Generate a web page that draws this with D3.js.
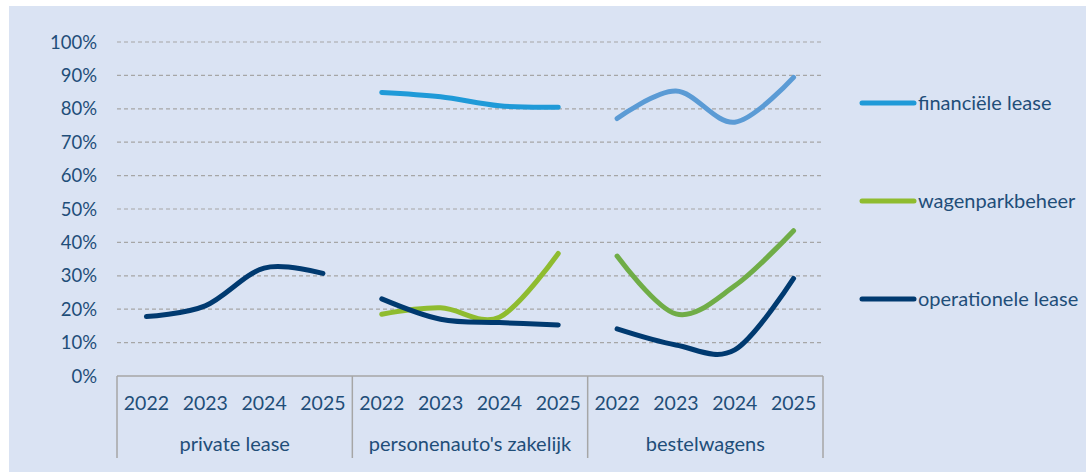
<!DOCTYPE html>
<html>
<head>
<meta charset="utf-8">
<script src="https://cdn.jsdelivr.net/npm/d3@7"></script>
<style>
  html, body { margin: 0; padding: 0; background: #ffffff; }
  svg { display: block; }
  text { font-family: Lato, "Open Sans", sans-serif; }
</style>
</head>
<body>
<svg id="chart" width="1086" height="472"></svg>
<script>
// ---- data ----
const groups = ["private lease", "personenauto's zakelijk", "bestelwagens"];
const years = ["2022", "2023", "2024", "2025"];
const yTicks = [0, 0.1, 0.2, 0.3, 0.4, 0.5, 0.6, 0.7, 0.8, 0.9, 1.0];

const seriesNames = ["financiële lease", "wagenparkbeheer", "operationele lease"];

// values per group (null = no data)
const financieleLease = [
  null,
  [0.849, 0.836, 0.809, 0.805],
  [0.771, 0.853, 0.760, 0.894]
];
const wagenparkbeheer = [
  null,
  [0.185, 0.204, 0.176, 0.367],
  [0.359, 0.186, 0.270, 0.435]
];
const operationeleLease = [
  [0.178, 0.210, 0.323, 0.307],
  [0.231, 0.170, 0.160, 0.153],
  [0.141, 0.093, 0.078, 0.292]
];

// colours per group (the source varies shade per panel)
const financieleColors = ["#1f9ad8", "#1f9ad8", "#5b9bd5"];
const wagenparkColors = ["#8fbc2f", "#8fbc2f", "#70ad47"];
const operationeleColors = ["#003a70", "#003a70", "#003a70"];
const legendColors = ["#1f9ad8", "#8fbc2f", "#003a70"];

// ---- layout ----
const svg = d3.select("#chart");
const W = 1086, H = 472;
const plot = { left: 117, right: 823, top: 42, bottom: 376 };
const textColor = "#1f4e79";
const gridColor = "#a6a6a6";

svg.append("rect").attr("x", 9).attr("y", 6).attr("width", W - 9).attr("height", H - 6)
  .attr("fill", "#dae3f3");

const cats = [];
groups.forEach((g, gi) => years.forEach((y, yi) => cats.push(gi + "|" + yi)));

const x = d3.scaleBand().domain(cats).range([plot.left, plot.right]).padding(0);
const y = d3.scaleLinear().domain([0, 1]).range([plot.bottom, plot.top]);

// gridlines
svg.append("g").selectAll("line").data(yTicks.filter(t => t > 0)).join("line")
  .attr("x1", plot.left).attr("x2", plot.right)
  .attr("y1", d => y(d)).attr("y2", d => y(d))
  .attr("stroke", gridColor).attr("stroke-width", 1.2)
  .attr("stroke-dasharray", "4,3");

// y axis labels
svg.append("g").selectAll("text").data(yTicks).join("text")
  .attr("x", 97).attr("y", d => y(d))
  .attr("dy", "0.36em")
  .attr("text-anchor", "end")
  .attr("font-size", 18.5)
  .attr("fill", textColor)
  .text(d => Math.round(d * 100) + "%");

// x axis line and group separators
const axisG = svg.append("g");
axisG.append("line")
  .attr("x1", plot.left).attr("x2", plot.right)
  .attr("y1", plot.bottom).attr("y2", plot.bottom)
  .attr("stroke", gridColor).attr("stroke-width", 1.5);

const sepX = groups.map((g, gi) => x(gi + "|0")).concat([plot.right]);
axisG.selectAll("line.sep").data(sepX).join("line").attr("class", "sep")
  .attr("x1", d => d).attr("x2", d => d)
  .attr("y1", plot.bottom).attr("y2", 458)
  .attr("stroke", gridColor).attr("stroke-width", 1.5);

// year labels
axisG.selectAll("text.year").data(cats).join("text").attr("class", "year")
  .attr("x", d => x(d) + x.bandwidth() / 2)
  .attr("y", 403).attr("dy", "0.36em")
  .attr("text-anchor", "middle")
  .attr("font-size", 19.5)
  .attr("fill", textColor)
  .text(d => years[+d.split("|")[1]]);

// group labels
axisG.selectAll("text.grp").data(groups).join("text").attr("class", "grp")
  .attr("x", (d, gi) => (sepX[gi] + sepX[gi + 1]) / 2)
  .attr("y", 444).attr("dy", "0.36em")
  .attr("text-anchor", "middle")
  .attr("font-size", 20)
  .attr("fill", textColor)
  .text(d => d);

// lines
const line = d3.line()
  .x(d => x(d.cat) + x.bandwidth() / 2)
  .y(d => y(d.v))
  .curve(d3.curveCardinal.tension(0));

const allSeries = [
  { vals: financieleLease, colors: financieleColors },
  { vals: wagenparkbeheer, colors: wagenparkColors },
  { vals: operationeleLease, colors: operationeleColors }
];

const linesG = svg.append("g");
allSeries.forEach(s => {
  s.vals.forEach((arr, gi) => {
    if (!arr) return;
    const pts = arr.map((v, yi) => ({ cat: gi + "|" + yi, v }));
    linesG.append("path")
      .attr("d", line(pts))
      .attr("fill", "none")
      .attr("stroke", s.colors[gi])
      .attr("stroke-width", 5)
      .attr("stroke-linecap", "round")
      .attr("stroke-linejoin", "round");
  });
});

// legend
const legendY = [103, 201, 299];
const leg = svg.append("g");
seriesNames.forEach((name, i) => {
  leg.append("line")
    .attr("x1", 862).attr("x2", 914)
    .attr("y1", legendY[i]).attr("y2", legendY[i])
    .attr("stroke", legendColors[i]).attr("stroke-width", 5)
    .attr("stroke-linecap", "round");
  leg.append("text")
    .attr("x", 918).attr("y", legendY[i]).attr("dy", "0.34em")
    .attr("font-size", 20)
    .attr("fill", textColor)
    .text(name);
});
</script>
</body>
</html>
